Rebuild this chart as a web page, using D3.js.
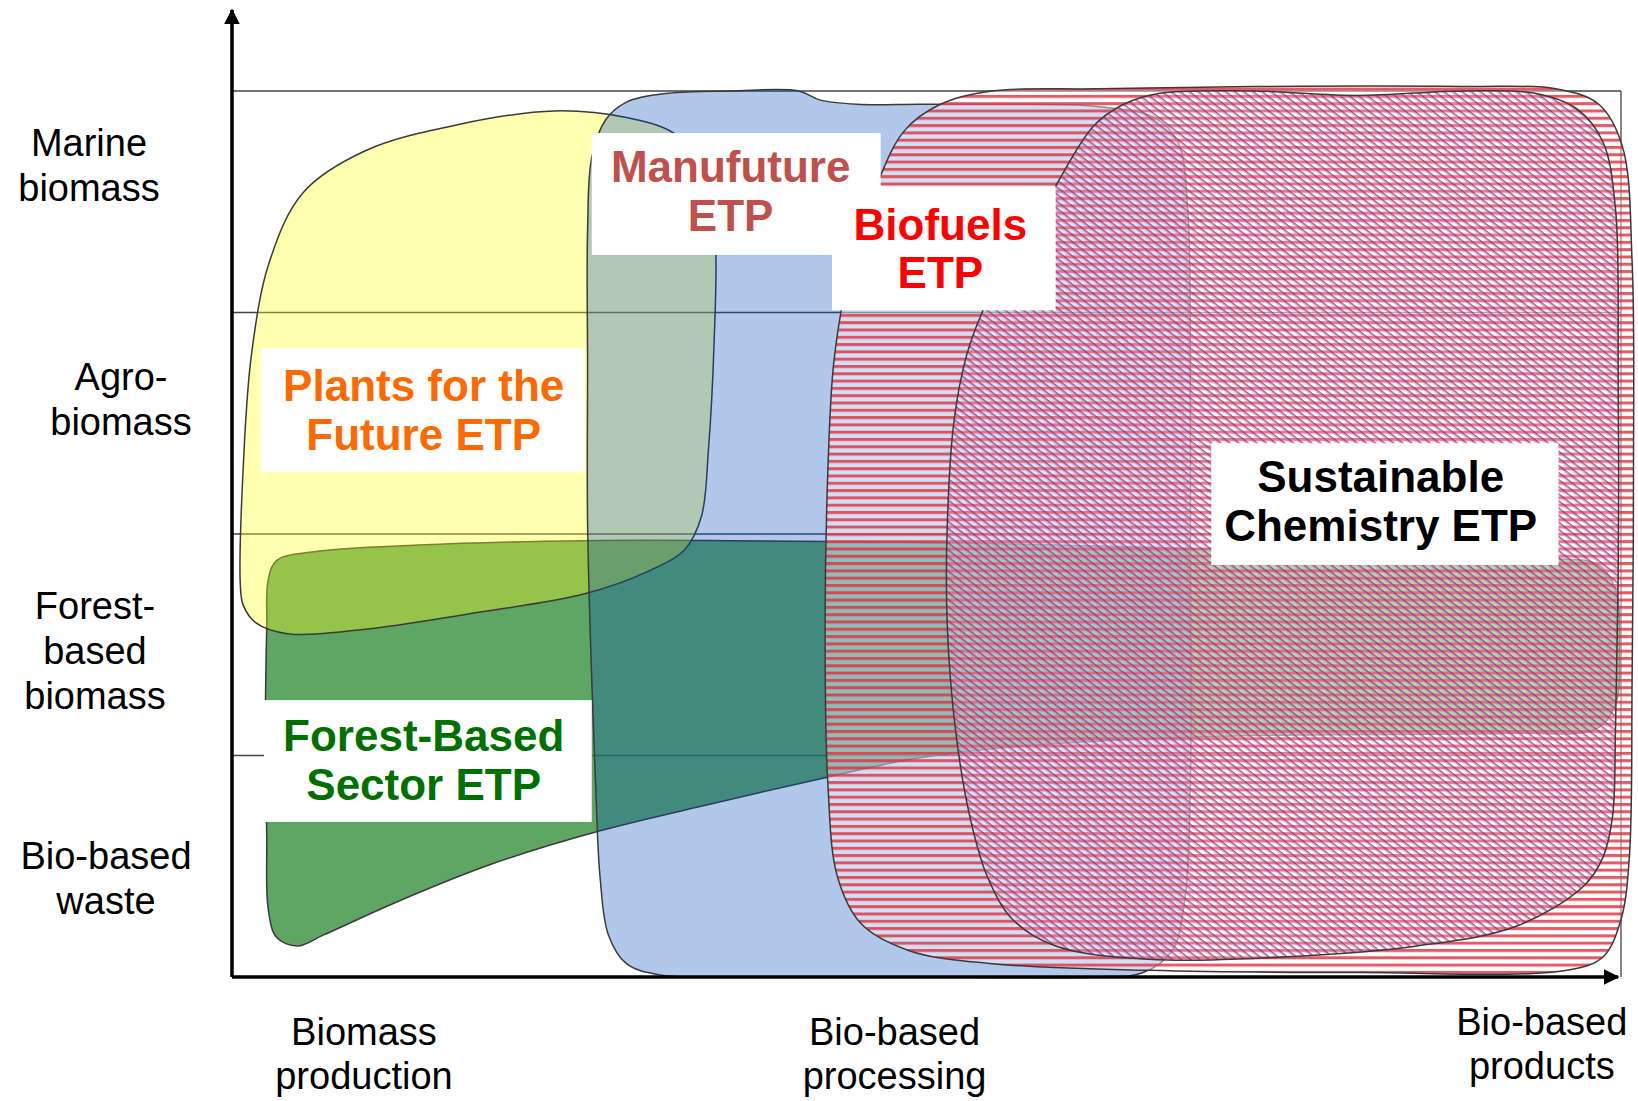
<!DOCTYPE html>
<html>
<head>
<meta charset="utf-8">
<script src="https://cdn.jsdelivr.net/npm/d3@7"></script>
<style>
  body { margin: 0; background: #fff; }
  text { font-family: "Liberation Sans", Arial, sans-serif; }
</style>
</head>
<body>
<svg id="chart" width="1638" height="1101"></svg>
<script>
// value chain stages along x, biomass sources along y (top row first)
const stages = [["Biomass", "production"], ["Bio-based", "processing"], ["Bio-based", "products"]];
const stagePos = [0.95, 4.77, 9.43];
const stageLabelV = [-0.245, -0.245, -0.2];

const sources = [["Marine", "biomass"], ["Agro-", "biomass"], ["Forest-", "based", "biomass"], ["Bio-based", "waste"]];
const sourcePos = [3.77, 2.71, 1.68, 0.55];

// ETP outlines, in (chain position, source row) units
const plantsOutline = [[0.06,1.77],[0.08,2.29],[0.14,2.81],[0.27,3.23],[0.51,3.54],[0.96,3.73],[1.64,3.85],[2.32,3.91],[2.84,3.88],[3.18,3.81],[3.41,3.66],[3.48,3.33],[3.47,2.85],[3.43,2.38],[3.38,2.08],[3.26,1.93],[2.99,1.83],[2.54,1.73],[1.71,1.64],[0.96,1.57],[0.40,1.55],[0.17,1.60],[0.08,1.68]];
const manufutureOutline = [[2.84,3.95],[3.14,3.99],[3.59,4.0],[4.08,4.0],[4.23,3.96],[4.50,3.94],[4.95,3.94],[5.55,3.94],[6.23,3.93],[6.64,3.88],[6.81,3.77],[6.88,3.47],[6.90,2.76],[6.90,1.82],[6.90,0.87],[6.86,0.35],[6.77,0.12],[6.56,0.02],[6.23,0.0],[5.10,0.0],[3.59,0.0],[3.07,0.01],[2.84,0.06],[2.71,0.19],[2.65,0.45],[2.62,0.83],[2.59,1.34],[2.56,2.05],[2.56,2.76],[2.56,3.37],[2.59,3.70],[2.69,3.87]];
const forestOutline = [[0.32,1.88],[0.59,1.92],[1.34,1.95],[2.54,1.97],[3.59,1.97],[5.10,1.96],[6.60,1.94],[8.11,1.91],[9.46,1.89],[9.84,1.86],[9.96,1.75],[9.99,1.49],[9.96,1.23],[9.82,1.12],[9.23,1.10],[7.35,1.09],[5.85,1.05],[4.95,0.99],[4.27,0.90],[3.44,0.78],[2.65,0.66],[1.87,0.51],[1.19,0.34],[0.66,0.19],[0.47,0.14],[0.32,0.18],[0.26,0.31],[0.25,0.64],[0.24,1.11],[0.25,1.58],[0.26,1.79]];
const biofuelsOutline = [[4.65,3.59],[4.84,3.82],[5.10,3.94],[5.47,4.0],[6.23,4.01],[7.35,4.02],[8.86,4.02],[9.53,4.01],[9.84,3.94],[10.01,3.75],[10.08,3.23],[10.09,2.29],[10.08,1.34],[10.06,0.54],[10.0,0.26],[9.87,0.09],[9.61,0.03],[8.11,0.02],[6.60,0.03],[5.47,0.06],[4.87,0.12],[4.53,0.24],[4.36,0.45],[4.29,0.87],[4.27,1.58],[4.29,2.29],[4.33,2.76],[4.41,3.09],[4.51,3.35]];
const chemistryOutline = [[5.87,3.51],[6.20,3.84],[6.42,3.94],[6.68,3.99],[7.35,4.0],[8.11,3.98],[8.86,4.0],[9.38,3.99],[9.68,3.92],[9.87,3.77],[9.96,3.47],[9.98,2.76],[9.98,1.82],[9.96,1.11],[9.94,0.73],[9.87,0.54],[9.73,0.41],[9.25,0.23],[8.53,0.14],[7.56,0.09],[6.60,0.08],[5.93,0.14],[5.62,0.26],[5.44,0.45],[5.31,0.73],[5.21,1.11],[5.15,1.58],[5.15,2.05],[5.20,2.52],[5.29,2.81],[5.40,3.0],[5.62,3.28]];

const etpLines = [["Plants for the", "Future ETP"], ["Manufuture", "ETP"], ["Biofuels", "ETP"], ["Sustainable", "Chemistry ETP"], ["Forest-Based", "Sector ETP"]];
const etpAnchor = [[1.38,2.67],[3.59,3.66],[5.10,3.40],[8.27,2.26],[1.38,1.09]];
const etpBox = [[0.21,2.54,2.84,2.28],[2.59,4.67,3.81,3.26],[4.32,5.93,3.57,3.01],[7.05,9.55,2.41,1.86],[0.23,2.59,1.25,0.70]];

var svg = d3.select("#chart");
var x = d3.scaleLinear().domain([0, 10]).range([232, 1621]);
var y = d3.scaleLinear().domain([0, 4]).range([977, 91]);
var etpColor = ["#ff6a00", "#c0504d", "#ff0000", "#000000", "#007000"];

var defs = svg.append("defs");
// horizontal red hatch (Biofuels)
var hp = defs.append("pattern").attr("id", "hatchH").attr("patternUnits", "userSpaceOnUse")
    .attr("width", 8).attr("height", 7.3);
hp.append("rect").attr("width", 8).attr("height", 7.3).attr("fill", "#fff").attr("fill-opacity", 0.42);
hp.append("rect").attr("width", 8).attr("height", 3).attr("fill", "#e0303e").attr("fill-opacity", 0.8);
// diagonal magenta hatch (Sustainable Chemistry)
var dp = defs.append("pattern").attr("id", "hatchD").attr("patternUnits", "userSpaceOnUse")
    .attr("width", 20).attr("height", 5.6).attr("patternTransform", "rotate(38)");
dp.append("rect").attr("width", 20).attr("height", 5.6).attr("fill", "#fff").attr("fill-opacity", 0.2);
dp.append("rect").attr("width", 20).attr("height", 1.4).attr("fill", "#9a1a64").attr("fill-opacity", 0.75);
dp.append("rect").attr("y", 1.4).attr("width", 20).attr("height", 1.1).attr("fill", "#b080d0").attr("fill-opacity", 0.6);

["arrowUp", "arrowRight"].forEach(function(id) {
  defs.append("marker").attr("id", id).attr("viewBox", "0 0 10 10")
    .attr("refX", 9).attr("refY", 5).attr("markerWidth", 4.5).attr("markerHeight", 4.5)
    .attr("orient", "auto")
    .append("path").attr("d", "M0,0 L10,5 L0,10 z").attr("fill", "#000");
});

// grid of source rows
var grid = svg.append("g").attr("stroke", "#444").attr("stroke-width", 1.3);
grid.selectAll("line.row").data([1, 2, 3, 4]).enter().append("line")
  .attr("x1", x(0)).attr("x2", x(10))
  .attr("y1", d => y(d)).attr("y2", d => y(d));
grid.append("line").attr("x1", x(10)).attr("x2", x(10)).attr("y1", y(4)).attr("y2", y(0));

var blob = d3.line().x(d => x(d[0])).y(d => y(d[1])).curve(d3.curveCatmullRomClosed.alpha(0.5));

var shapes = [
  {pts: forestOutline, fill: "#2a8730", op: 0.75},
  {pts: plantsOutline, fill: "#ffff1e", op: 0.35},
  {pts: manufutureOutline, fill: "#0048bc", op: 0.3},
  {pts: biofuelsOutline, fill: "url(#hatchH)", op: 1},
  {pts: chemistryOutline, fill: "url(#hatchD)", op: 1}
];
svg.append("g").selectAll("path").data(shapes).enter().append("path")
  .attr("d", d => blob(d.pts))
  .attr("fill", d => d.fill)
  .attr("fill-opacity", d => d.op)
  .attr("stroke", "#3a3a3a")
  .attr("stroke-width", 1.5);

// axes
svg.append("line").attr("x1", x(0)).attr("y1", y(0)).attr("x2", x(0)).attr("y2", 10)
  .attr("stroke", "#000").attr("stroke-width", 3.5).attr("marker-end", "url(#arrowUp)");
svg.append("line").attr("x1", x(0)).attr("y1", y(0)).attr("x2", 1618).attr("y2", y(0))
  .attr("stroke", "#000").attr("stroke-width", 3.5).attr("marker-end", "url(#arrowRight)");

// ETP label boxes and names
var lab = svg.append("g");
lab.selectAll("rect").data(etpBox).enter().append("rect")
  .attr("x", d => x(d[0])).attr("y", d => y(d[2]))
  .attr("width", d => x(d[1]) - x(d[0])).attr("height", d => y(d[3]) - y(d[2]))
  .attr("fill", "#fff");
etpLines.forEach(function(lines, i) {
  lines.forEach(function(t, j) {
    lab.append("text")
      .attr("x", x(etpAnchor[i][0]))
      .attr("y", y(etpAnchor[i][1] - 0.22 * j))
      .attr("dy", "0.36em")
      .attr("text-anchor", "middle")
      .attr("font-size", 44).attr("font-weight", "bold")
      .attr("fill", etpColor[i])
      .text(t);
  });
});

// source labels (left)
var srcX = [89, 121, 95, 106];
sources.forEach(function(lines, i) {
  lines.forEach(function(t, j) {
    svg.append("text")
      .attr("x", srcX[i]).attr("y", y(sourcePos[i]) + 45 * j)
      .attr("dy", "0.36em").attr("text-anchor", "middle")
      .attr("font-size", 38).attr("fill", "#000")
      .text(t);
  });
});

// stage labels (bottom)
stages.forEach(function(lines, i) {
  lines.forEach(function(t, j) {
    svg.append("text")
      .attr("x", x(stagePos[i])).attr("y", y(stageLabelV[i]) + 44 * j)
      .attr("dy", "0.36em").attr("text-anchor", "middle")
      .attr("font-size", 38).attr("fill", "#000")
      .text(t);
  });
});
</script>
</body>
</html>
